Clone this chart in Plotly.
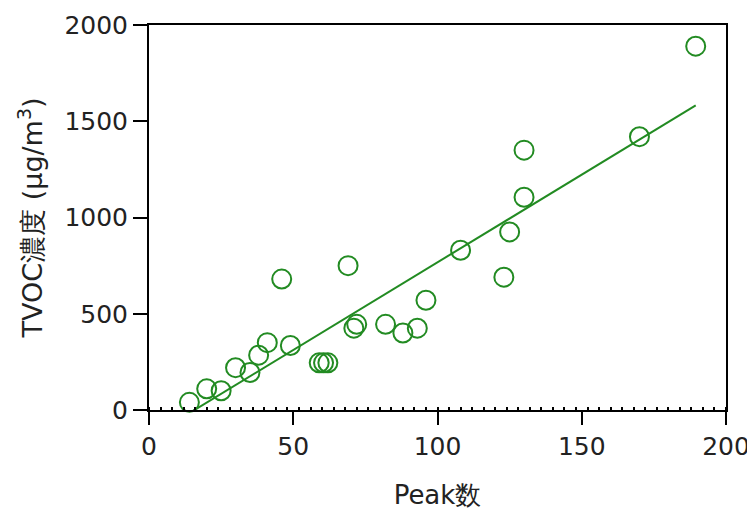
import numpy as np
import plotly.graph_objects as go

peak = [189.5, 170, 130, 130, 125, 123, 108, 96, 93, 88, 82, 72, 71, 69, 46, 49,
        62, 60.5, 59, 41, 38, 35, 30, 25, 20, 14]
tvoc = [1890, 1420, 1350, 1105, 925, 690, 830, 570, 425, 400, 445, 445, 425, 750, 680, 335,
        245, 245, 245, 350, 285, 195, 220, 100, 110, 40]

x_ticks = [0, 50, 100, 150, 200]
y_ticks = [0, 500, 1000, 1500, 2000]

green = "rgb(34,139,34)"

slope, intercept = np.polyfit(peak, tvoc, 1)
fit_x = [min(peak), max(peak)]
fit_y = [slope * v + intercept for v in fit_x]

fig = go.Figure()
fig.add_trace(go.Scatter(x=fit_x, y=fit_y, mode="lines",
                         line=dict(color=green, width=2), showlegend=False, hoverinfo="skip"))
fig.add_trace(go.Scatter(x=peak, y=tvoc, mode="markers",
                         marker=dict(symbol="circle-open", size=19, color=green,
                                     line=dict(width=2, color=green)),
                         showlegend=False, cliponaxis=False))

tick_font = dict(family="DejaVu Sans, Verdana, sans-serif", size=25, color="#222")
title_font = dict(family="DejaVu Sans, sans-serif", size=26, color="#222")
ytitle_font = dict(family="DejaVu Sans, sans-serif", size=27, color="#222")
fig.update_layout(
    width=755, height=513,
    margin=dict(l=141, r=37, t=17, b=111),
    plot_bgcolor="white", paper_bgcolor="white",
    font=tick_font,
    xaxis=dict(range=[0, 200], tickvals=x_ticks, ticks="outside", ticklen=13, tickwidth=2,
               tickcolor="black", showline=True, linecolor="black", linewidth=2, mirror=True,
               showgrid=False, zeroline=False, tickfont=tick_font, automargin=False,
               minor=dict(dtick=4, ticks="inside", ticklen=3, tickwidth=2, tickcolor="black"),
               title=dict(text="Peak数", font=title_font, standoff=26)),
    yaxis=dict(range=[0, 2000], tickvals=y_ticks, ticks="outside", ticklen=14, tickwidth=2,
               tickcolor="black", showline=True, linecolor="black", linewidth=2, mirror=True,
               showgrid=False, zeroline=False, tickfont=tick_font, automargin=False,
               title=dict(text="TVOC濃度 (μg/m<sup>3</sup>)", font=ytitle_font, standoff=14)),
)

fig.write_html("out.html")
